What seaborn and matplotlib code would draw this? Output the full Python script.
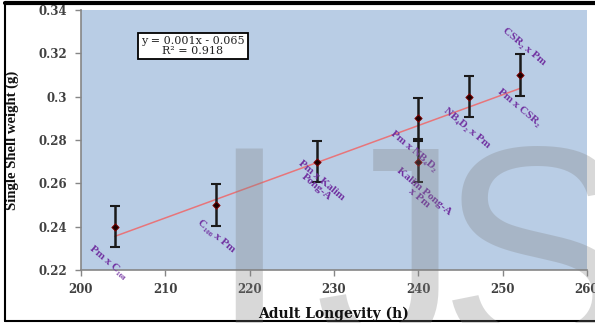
import numpy as np
import pandas as pd
import matplotlib
matplotlib.use("Agg")
import matplotlib.pyplot as plt
from matplotlib.lines import Line2D
import seaborn as sns

# data
longevity = [204, 216, 228, 240, 240, 246, 252]
shell_weight = [0.24, 0.25, 0.27, 0.29, 0.27, 0.30, 0.31]
err = [0.0095, 0.0095, 0.0095, 0.0095, 0.0095, 0.0095, 0.0095]

cross_labels = ["Pm x C₁₀₈", "C₁₀₈ x Pm", "Pm x Kalim\nPong-A", "Pm x NB₄D₂",
                "Kalim Pong-A\nx Pm", "NB₄D₂ x Pm", "CSR₂ x Pm", "Pm x CSR₂"]
label_x = [203.2, 216.0, 228.2, 239.5, 240.4, 245.8, 252.5, 252.0]
label_y = [0.2235, 0.2357, 0.2600, 0.2748, 0.2546, 0.2855, 0.3230, 0.2948]

df = pd.DataFrame({"longevity": longevity, "weight": shell_weight})

sns.set_style("ticks", {"axes.facecolor": "#b9cde5"})
plt.rcParams["font.family"] = ["Liberation Serif", "DejaVu Serif"]

fig = plt.figure(figsize=(5.95, 3.23), dpi=100)
ax = fig.add_axes([0.1361, 0.164, 0.8504, 0.805])

sns.regplot(data=df, x="longevity", y="weight", ax=ax, ci=None, scatter=False,
            truncate=True, line_kws={"color": "#e8757a", "lw": 1.1})
ax.errorbar(longevity, shell_weight, yerr=err, fmt="none", ecolor="#1a1a1a",
            elinewidth=1.8, capsize=3.5, capthick=1.5, zorder=3)
sns.scatterplot(data=df, x="longevity", y="weight", ax=ax, marker="D", s=14,
                color="#1a0000", edgecolor="#8b0000", linewidth=0.6, zorder=4)

for t, lx, ly in zip(cross_labels, label_x, label_y):
    ax.text(lx, ly, t, rotation=-40, ha="center", va="center", fontsize=8,
            fontweight="bold", color="#7030a0", linespacing=0.95, zorder=5,
            family=["Liberation Serif", "DejaVu Serif"])

ax.text(0.221, 0.862, "y = 0.001x - 0.065\nR² = 0.918", transform=ax.transAxes,
        ha="center", va="center", fontsize=8, color="#222222", linespacing=1.0,
        family="DejaVu Serif",
        bbox=dict(boxstyle="square,pad=0.3", fc="white", ec="black", lw=1.3), zorder=6)

ax.set_xlim(200, 260)
ax.set_ylim(0.22, 0.34)
ax.set_xticks(np.arange(200, 261, 10))
ax.set_yticks([0.22, 0.24, 0.26, 0.28, 0.3, 0.32, 0.34])
ax.set_yticklabels(["0.22", "0.24", "0.26", "0.28", "0.3", "0.32", "0.34"])
for lab in ax.get_xticklabels() + ax.get_yticklabels():
    lab.set_fontweight("bold")
    lab.set_color("#404040")
    lab.set_family("DejaVu Serif")
    lab.set_fontsize(8.5)
ax.tick_params(axis="y", length=4, color="#868686", width=1, pad=6)
ax.tick_params(axis="x", length=4, color="#868686", width=1, pad=5)
for s in ["left", "bottom"]:
    ax.spines[s].set_color("#868686")
    ax.spines[s].set_linewidth(1.2)
sns.despine(ax=ax)

ax.set_xlabel("")
ax.set_ylabel("Single Shell weight (g)", fontsize=10.5, fontweight="bold", color="#111111",
              labelpad=14)

# watermark letters
for letter, wx in zip("IJS", [0.3494, 0.5287, 0.737]):
    fig.text(wx, -0.077, letter, fontsize=209, family="Liberation Sans", color="#808080",
             alpha=0.3, ha="left", va="baseline", zorder=10)

# x label sits above the watermark
fig.text(0.5613, 0.0155, "Adult Longevity (h)", fontsize=10, fontweight="bold",
         color="#111111", family="DejaVu Serif", ha="center", va="baseline", zorder=11)

# page frame lines
fig.add_artist(Line2D([0.008, 1.0], [0.99, 0.99], color="black", lw=3))
fig.add_artist(Line2D([0.009, 0.009], [0.006, 0.99], color="black", lw=1.5))
fig.add_artist(Line2D([0.008, 1.0], [0.007, 0.007], color="black", lw=1.5))

fig.savefig("out.png", dpi=100)
